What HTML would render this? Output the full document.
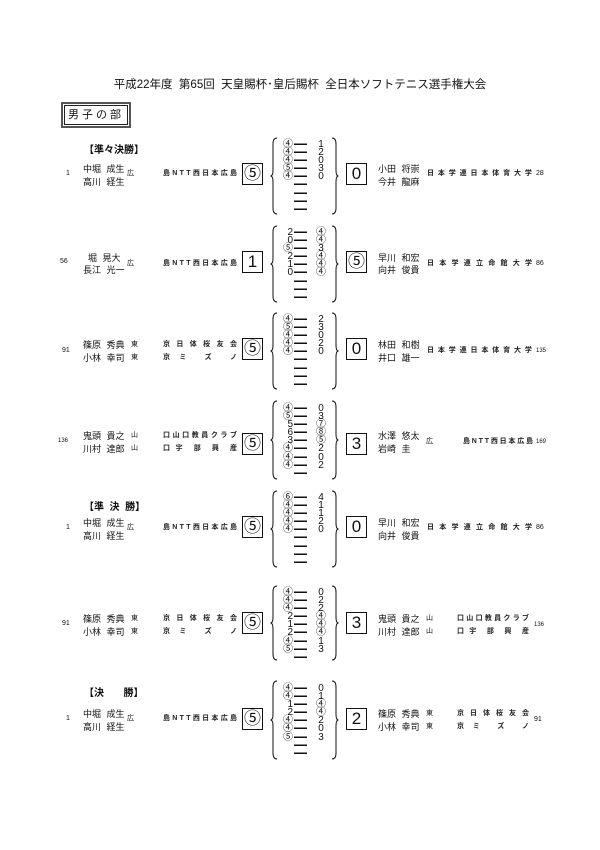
<!DOCTYPE html>
<html><head><meta charset="utf-8">
<style>
body{margin:0;background:#fff;}
#pg{position:relative;width:600px;height:850px;overflow:hidden;background:#fff;font-family:"Liberation Sans","Noto Sans CJK JP",sans-serif;color:#111;}
.a{position:absolute;white-space:nowrap;}
.blk{position:absolute;left:0;width:600px;height:90px;}
.nm{position:absolute;font-size:9px;line-height:10px;white-space:nowrap;word-spacing:3px;}
.sd{position:absolute;font-size:7px;line-height:8px;}
.og{position:absolute;font-size:7px;line-height:8px;display:flex;justify-content:space-between;font-weight:bold;color:#222;}
.bx{position:absolute;top:26px;width:19px;height:20px;border:1.5px solid #111;font-size:17px;line-height:20px;text-align:center;}
.br{position:absolute;top:0;}
.sc{position:absolute;font-size:10px;line-height:8.1px;}
.sl{left:276px;width:17px;text-align:right;}
.sr{left:314px;width:14px;text-align:center;}
.ds{position:absolute;left:294px;width:13px;}
.ds div{height:8.1px;background:linear-gradient(to bottom,transparent 3.4px,#111 3.4px,#111 4.9px,transparent 4.9px);}
.hd{position:absolute;left:84px;font-size:10px;font-weight:bold;}
</style></head><body><div id="pg">
<div class="a" style="left:0;width:600px;top:76px;text-align:center;font-size:11.5px;">平成22年度&nbsp; 第65回&nbsp; 天皇賜杯･皇后賜杯&nbsp; 全日本ソフトテニス選手権大会</div>
<div class="a" style="left:61px;top:102px;width:66px;height:22px;border:2px solid #555;"></div>
<div class="a" style="left:64px;top:105px;width:62px;height:18px;border:1px solid #222;font-size:11px;line-height:18px;text-align:center;letter-spacing:3px;">男子の部</div>

<div class="hd" style="top:141px;">【準々決勝】</div>
<div class="hd" style="top:498px;">【準&nbsp; 決&nbsp; 勝】</div>
<div class="hd" style="top:684px;">【決&nbsp;&nbsp;&nbsp;&nbsp;&nbsp;&nbsp; 勝】</div>

<!-- block 1 -->
<div class="blk" style="top:137px;">
<div class="sd" style="left:66px;top:33px;">1</div>
<div class="nm" style="left:83px;top:27px;">中堀 成生</div><div class="nm" style="left:83px;top:40px;">高川 経生</div>
<div class="sd" style="left:127px;top:33px;">広</div>
<div class="og" style="left:163px;top:33px;width:74px;"><span>島</span><span>N</span><span>T</span><span>T</span><span>西</span><span>日</span><span>本</span><span>広</span><span>島</span></div>
<div class="bx" style="left:242px;">⑤</div>
<svg class="br" style="left:270px" width="8" height="78"><path d="M7,1 Q3,1 3,7 L3,33 Q3,39 0.5,39 Q3,39 3,45 L3,71 Q3,77 7,77" fill="none" stroke="#111" stroke-width="1"/></svg>
<div class="sc sl" style="top:4px;">④<br>④<br>④<br>⑤<br>④</div>
<div class="ds" style="top:3px;"><div></div><div></div><div></div><div></div><div></div><div></div><div></div><div></div><div></div></div>
<div class="sc sr" style="top:4px;">1<br>2<br>0<br>3<br>0</div>
<svg class="br" style="left:331px" width="8" height="78"><path d="M1,1 Q5,1 5,7 L5,33 Q5,39 7.5,39 Q5,39 5,45 L5,71 Q5,77 1,77" fill="none" stroke="#111" stroke-width="1"/></svg>
<div class="bx" style="left:346px;">0</div>
<div class="nm" style="left:378px;top:27px;">小田 将崇</div><div class="nm" style="left:378px;top:40px;">今井 龍麻</div>
<div class="og" style="left:427px;top:33px;width:105px;"><span>日</span><span>本</span><span>学</span><span>連</span><span>日</span><span>本</span><span>体</span><span>育</span><span>大</span><span>学</span></div>
<div class="sd" style="left:536px;top:33px;">28</div>
</div>

<!-- block 2 -->
<div class="blk" style="top:225px;">
<div class="sd" style="left:60px;top:33px;">56</div>
<div class="nm" style="left:88px;top:28px;">堀 晃大</div><div class="nm" style="left:83px;top:40px;">長江 光一</div>
<div class="sd" style="left:127px;top:35px;">広</div>
<div class="og" style="left:163px;top:35px;width:74px;"><span>島</span><span>N</span><span>T</span><span>T</span><span>西</span><span>日</span><span>本</span><span>広</span><span>島</span></div>
<div class="bx" style="left:242px;">1</div>
<svg class="br" style="left:270px" width="8" height="78"><path d="M7,1 Q3,1 3,7 L3,33 Q3,39 0.5,39 Q3,39 3,45 L3,71 Q3,77 7,77" fill="none" stroke="#111" stroke-width="1"/></svg>
<div class="sc sl" style="top:4px;">2<br>0<br>⑤<br>2<br>1<br>0</div>
<div class="ds" style="top:3px;"><div></div><div></div><div></div><div></div><div></div><div></div><div></div><div></div><div></div></div>
<div class="sc sr" style="top:4px;">④<br>④<br>3<br>④<br>④<br>④</div>
<svg class="br" style="left:331px" width="8" height="78"><path d="M1,1 Q5,1 5,7 L5,33 Q5,39 7.5,39 Q5,39 5,45 L5,71 Q5,77 1,77" fill="none" stroke="#111" stroke-width="1"/></svg>
<div class="bx" style="left:346px;">⑤</div>
<div class="nm" style="left:378px;top:28px;">早川 和宏</div><div class="nm" style="left:378px;top:40px;">向井 俊貴</div>
<div class="og" style="left:427px;top:35px;width:105px;"><span>日</span><span>本</span><span>学</span><span>連</span><span>立</span><span>命</span><span>館</span><span>大</span><span>学</span></div>
<div class="sd" style="left:536px;top:35px;">86</div>
</div>

<!-- block 3 -->
<div class="blk" style="top:312px;">
<div class="sd" style="left:62px;top:35px;">91</div>
<div class="nm" style="left:83px;top:28px;">篠原 秀典</div><div class="nm" style="left:83px;top:41px;">小林 幸司</div>
<div class="sd" style="left:131px;top:29px;">東</div><div class="sd" style="left:131px;top:42px;">東</div>
<div class="og" style="left:163px;top:29px;width:74px;"><span>京</span><span>日</span><span>体</span><span>桜</span><span>友</span><span>会</span></div>
<div class="og" style="left:163px;top:42px;width:74px;"><span>京</span><span>ミ</span><span></span><span>ズ</span><span></span><span>ノ</span></div>
<div class="bx" style="left:242px;">⑤</div>
<svg class="br" style="left:270px" width="8" height="78"><path d="M7,1 Q3,1 3,7 L3,33 Q3,39 0.5,39 Q3,39 3,45 L3,71 Q3,77 7,77" fill="none" stroke="#111" stroke-width="1"/></svg>
<div class="sc sl" style="top:4px;">④<br>⑤<br>④<br>④<br>④</div>
<div class="ds" style="top:3px;"><div></div><div></div><div></div><div></div><div></div><div></div><div></div><div></div><div></div></div>
<div class="sc sr" style="top:4px;">2<br>3<br>0<br>2<br>0</div>
<svg class="br" style="left:331px" width="8" height="78"><path d="M1,1 Q5,1 5,7 L5,33 Q5,39 7.5,39 Q5,39 5,45 L5,71 Q5,77 1,77" fill="none" stroke="#111" stroke-width="1"/></svg>
<div class="bx" style="left:346px;">0</div>
<div class="nm" style="left:378px;top:28px;">林田 和樹</div><div class="nm" style="left:378px;top:41px;">井口 雄一</div>
<div class="og" style="left:427px;top:35px;width:105px;"><span>日</span><span>本</span><span>学</span><span>連</span><span>日</span><span>本</span><span>体</span><span>育</span><span>大</span><span>学</span></div>
<div class="sd" style="left:536px;top:35px;font-size:6px;">135</div>
</div>

<!-- block 4 -->
<div class="blk" style="top:400px;">
<div class="sd" style="left:58px;top:37px;font-size:6px;">136</div>
<div class="nm" style="left:83px;top:31px;">鬼頭 貴之</div><div class="nm" style="left:83px;top:44px;">川村 達郎</div>
<div class="sd" style="left:131px;top:32px;">山</div><div class="sd" style="left:131px;top:45px;">山</div>
<div class="og" style="left:163px;top:32px;width:74px;"><span>口</span><span>山</span><span>口</span><span>教</span><span>員</span><span>ク</span><span>ラ</span><span>ブ</span></div>
<div class="og" style="left:163px;top:45px;width:74px;"><span>口</span><span>宇</span><span></span><span>部</span><span></span><span>興</span><span></span><span>産</span></div>
<div class="bx" style="left:242px;top:33px;">⑤</div>
<svg class="br" style="left:270px" width="8" height="80"><path d="M7,1 Q3,1 3,7 L3,34 Q3,40 0.5,40 Q3,40 3,46 L3,73 Q3,79 7,79" fill="none" stroke="#111" stroke-width="1"/></svg>
<div class="sc sl" style="top:5px;">④<br>⑤<br>5<br>6<br>3<br>④<br>④<br>④</div>
<div class="ds" style="top:4px;"><div></div><div></div><div></div><div></div><div></div><div></div><div></div><div></div><div></div></div>
<div class="sc sr" style="top:5px;">0<br>3<br>⑦<br>⑧<br>⑤<br>2<br>0<br>2</div>
<svg class="br" style="left:331px" width="8" height="80"><path d="M1,1 Q5,1 5,7 L5,34 Q5,40 7.5,40 Q5,40 5,46 L5,73 Q5,79 1,79" fill="none" stroke="#111" stroke-width="1"/></svg>
<div class="bx" style="left:346px;top:33px;">3</div>
<div class="nm" style="left:378px;top:31px;">水澤 悠太</div><div class="nm" style="left:378px;top:44px;">岩崎 圭</div>
<div class="sd" style="left:426px;top:38px;">広</div>
<div class="og" style="left:463px;top:38px;width:70px;"><span>島</span><span>N</span><span>T</span><span>T</span><span>西</span><span>日</span><span>本</span><span>広</span><span>島</span></div>
<div class="sd" style="left:536px;top:38px;font-size:6px;">169</div>
</div>

<!-- block 5 -->
<div class="blk" style="top:490px;">
<div class="sd" style="left:66px;top:34px;">1</div>
<div class="nm" style="left:83px;top:28px;">中堀 成生</div><div class="nm" style="left:83px;top:41px;">高川 経生</div>
<div class="sd" style="left:127px;top:34px;">広</div>
<div class="og" style="left:163px;top:34px;width:74px;"><span>島</span><span>N</span><span>T</span><span>T</span><span>西</span><span>日</span><span>本</span><span>広</span><span>島</span></div>
<div class="bx" style="left:242px;">⑤</div>
<svg class="br" style="left:270px" width="8" height="78"><path d="M7,1 Q3,1 3,7 L3,33 Q3,39 0.5,39 Q3,39 3,45 L3,71 Q3,77 7,77" fill="none" stroke="#111" stroke-width="1"/></svg>
<div class="sc sl" style="top:4px;">⑥<br>④<br>④<br>④<br>④</div>
<div class="ds" style="top:3px;"><div></div><div></div><div></div><div></div><div></div><div></div><div></div><div></div><div></div></div>
<div class="sc sr" style="top:4px;">4<br>1<br>1<br>2<br>0</div>
<svg class="br" style="left:331px" width="8" height="78"><path d="M1,1 Q5,1 5,7 L5,33 Q5,39 7.5,39 Q5,39 5,45 L5,71 Q5,77 1,77" fill="none" stroke="#111" stroke-width="1"/></svg>
<div class="bx" style="left:346px;">0</div>
<div class="nm" style="left:378px;top:28px;">早川 和宏</div><div class="nm" style="left:378px;top:41px;">向井 俊貴</div>
<div class="og" style="left:427px;top:34px;width:105px;"><span>日</span><span>本</span><span>学</span><span>連</span><span>立</span><span>命</span><span>館</span><span>大</span><span>学</span></div>
<div class="sd" style="left:536px;top:34px;">86</div>
</div>

<!-- block 6 -->
<div class="blk" style="top:585px;">
<div class="sd" style="left:62px;top:35px;">91</div>
<div class="nm" style="left:83px;top:29px;">篠原 秀典</div><div class="nm" style="left:83px;top:42px;">小林 幸司</div>
<div class="sd" style="left:131px;top:30px;">東</div><div class="sd" style="left:131px;top:43px;">東</div>
<div class="og" style="left:163px;top:30px;width:74px;"><span>京</span><span>日</span><span>体</span><span>桜</span><span>友</span><span>会</span></div>
<div class="og" style="left:163px;top:43px;width:74px;"><span>京</span><span>ミ</span><span></span><span>ズ</span><span></span><span>ノ</span></div>
<div class="bx" style="left:242px;top:27px;">⑤</div>
<svg class="br" style="left:270px" width="8" height="76"><path d="M7,1 Q3,1 3,7 L3,32 Q3,38 0.5,38 Q3,38 3,44 L3,69 Q3,75 7,75" fill="none" stroke="#111" stroke-width="1"/></svg>
<div class="sc sl" style="top:4px;">④<br>④<br>④<br>2<br>1<br>2<br>④<br>⑤</div>
<div class="ds" style="top:3px;"><div></div><div></div><div></div><div></div><div></div><div></div><div></div><div></div><div></div></div>
<div class="sc sr" style="top:4px;">0<br>2<br>2<br>④<br>④<br>④<br>1<br>3</div>
<svg class="br" style="left:331px" width="8" height="76"><path d="M1,1 Q5,1 5,7 L5,32 Q5,38 7.5,38 Q5,38 5,44 L5,69 Q5,75 1,75" fill="none" stroke="#111" stroke-width="1"/></svg>
<div class="bx" style="left:346px;top:27px;">3</div>
<div class="nm" style="left:378px;top:29px;">鬼頭 貴之</div><div class="nm" style="left:378px;top:42px;">川村 達郎</div>
<div class="sd" style="left:426px;top:30px;">山</div><div class="sd" style="left:426px;top:43px;">山</div>
<div class="og" style="left:457px;top:30px;width:72px;"><span>口</span><span>山</span><span>口</span><span>教</span><span>員</span><span>ク</span><span>ラ</span><span>ブ</span></div>
<div class="og" style="left:457px;top:43px;width:72px;"><span>口</span><span>宇</span><span></span><span>部</span><span></span><span>興</span><span></span><span>産</span></div>
<div class="sd" style="left:534px;top:36px;font-size:6px;">136</div>
</div>

<!-- block 7 -->
<div class="blk" style="top:680px;">
<div class="sd" style="left:66px;top:35px;">1</div>
<div class="nm" style="left:83px;top:29px;">中堀 成生</div><div class="nm" style="left:83px;top:42px;">高川 経生</div>
<div class="sd" style="left:127px;top:35px;">広</div>
<div class="og" style="left:163px;top:35px;width:74px;"><span>島</span><span>N</span><span>T</span><span>T</span><span>西</span><span>日</span><span>本</span><span>広</span><span>島</span></div>
<div class="bx" style="left:242px;top:28px;">⑤</div>
<svg class="br" style="left:270px" width="8" height="80"><path d="M7,1 Q3,1 3,7 L3,34 Q3,40 0.5,40 Q3,40 3,46 L3,73 Q3,79 7,79" fill="none" stroke="#111" stroke-width="1"/></svg>
<div class="sc sl" style="top:5px;">④<br>④<br>1<br>2<br>④<br>④<br>⑤</div>
<div class="ds" style="top:4px;"><div></div><div></div><div></div><div></div><div></div><div></div><div></div><div></div><div></div></div>
<div class="sc sr" style="top:5px;">0<br>1<br>④<br>④<br>2<br>0<br>3</div>
<svg class="br" style="left:331px" width="8" height="80"><path d="M1,1 Q5,1 5,7 L5,34 Q5,40 7.5,40 Q5,40 5,46 L5,73 Q5,79 1,79" fill="none" stroke="#111" stroke-width="1"/></svg>
<div class="bx" style="left:346px;top:28px;">2</div>
<div class="nm" style="left:378px;top:29px;">篠原 秀典</div><div class="nm" style="left:378px;top:42px;">小林 幸司</div>
<div class="sd" style="left:426px;top:30px;">東</div><div class="sd" style="left:426px;top:43px;">東</div>
<div class="og" style="left:457px;top:30px;width:72px;"><span>京</span><span>日</span><span>体</span><span>桜</span><span>友</span><span>会</span></div>
<div class="og" style="left:457px;top:43px;width:72px;"><span>京</span><span>ミ</span><span></span><span>ズ</span><span></span><span>ノ</span></div>
<div class="sd" style="left:534px;top:36px;">91</div>
</div>

</div></body></html>
